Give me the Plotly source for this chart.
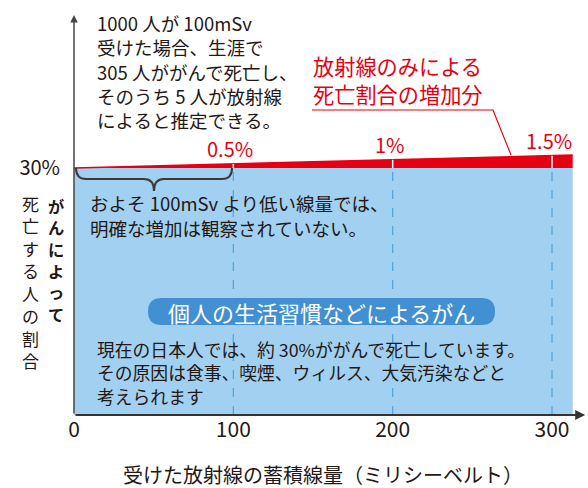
import plotly.graph_objects as go

# Cumulative dose (mSv) and the extra cancer-death share caused by radiation (%)
dose = [0, 100, 200, 300, 313]
excess = [0.0, 0.5, 1.0, 1.5, 1.57]
labelled_doses = [100, 200, 300]
base_rate = 30  # share of people dying of cancer (%)

x_ticks = [0, 100, 200, 300]
x_tick_text = ["0", "100", "200", "300"]
y_ticks = [30]
y_tick_text = ["30%"]

note_lines = [
    "1000 人が 100mSv",
    "受けた場合、生涯で",
    "305 人ががんで死亡し、",
    "そのうち 5 人が放射線",
    "によると推定できる。",
]
low_dose_lines = [
    "およそ 100mSv より低い線量では、",
    "明確な増加は観察されていない。",
]
lifestyle_title = "個人の生活習慣などによるがん"
lifestyle_lines = [
    "現在の日本人では、約 30%ががんで死亡しています。",
    "その原因は食事、喫煙、ウィルス、大気汚染などと",
    "考えられます",
]
radiation_title = ["放射線のみによる", "死亡割合の増加分"]
y_title_bold = "がんによって"
y_title = "死亡する人の割合"
x_title = "受けた放射線の蓄積線量（ミリシーベルト）"

RED = "#e50012"
BLUE_FILL = "#a1d0f0"
BLUE_DASH = "#4ea4dc"
PILL = "#4290d1"
INK = "#231815"
FONT = "Noto Sans CJK JP"

W, H = 588, 488
ML, MR, MT, MB = 74, 2, 10, 73
PW, PH = W - ML - MR, H - MT - MB
X_MAX = 300 * PW / 478
Y_MAX = base_rate * PH / 247


def px(x):
    return (x - ML) / PW


def py(y):
    return (H - MB - y) / PH


fig = go.Figure()

# population baseline (blue area)
fig.add_trace(go.Scatter(x=dose, y=[base_rate] * len(dose), mode="lines",
                         line=dict(width=0), fill="tozeroy",
                         fillcolor=BLUE_FILL, hoverinfo="skip"))

# dashed guides inside the blue area
for d in labelled_doses:
    fig.add_trace(go.Scatter(x=[d, d], y=[0, base_rate], mode="lines",
                             line=dict(color=BLUE_DASH, width=1.2, dash="dash"),
                             hoverinfo="skip"))

# radiation excess (red band on top of the baseline)
fig.add_trace(go.Scatter(x=dose, y=[base_rate] * len(dose), mode="lines",
                         line=dict(width=0), hoverinfo="skip"))
fig.add_trace(go.Scatter(x=dose, y=[base_rate + e for e in excess], mode="lines",
                         line=dict(color=RED, width=1.6), fill="tonexty",
                         fillcolor=RED, hoverinfo="skip"))

# white separators through the red band
for d in labelled_doses:
    e = excess[dose.index(d)]
    fig.add_trace(go.Scatter(x=[d, d], y=[base_rate, base_rate + e], mode="lines",
                             line=dict(color="white", width=1.5), hoverinfo="skip"))

annotations = []

# percentage labels above the band
for d in labelled_doses:
    e = excess[dose.index(d)]
    annotations.append(dict(x=d, y=base_rate + e, xref="x", yref="y",
                            text=f"{e:g}%", showarrow=False, yshift=15, xshift=-3,
                            xanchor="center", yanchor="middle",
                            font=dict(family=FONT, size=20, color=RED)))

# axis arrows
annotations.append(dict(x=0, y=Y_MAX - 0.6, ax=0, ay=0, xref="x", yref="y",
                        axref="x", ayref="y", text="", showarrow=True,
                        arrowhead=2, arrowsize=1, arrowwidth=1.5, arrowcolor="#444"))
annotations.append(dict(x=X_MAX - 0.5, y=0, ax=0, ay=0, xref="x", yref="y",
                        axref="x", ayref="y", text="", showarrow=True,
                        arrowhead=2, arrowsize=1, arrowwidth=2, arrowcolor="#333"))


def text_line(txt, x, y, size, color=INK, anchor="left", bold=False):
    annotations.append(dict(x=px(x), y=py(y), xref="paper", yref="paper",
                            text=f"<b>{txt}</b>" if bold else txt,
                            showarrow=False, xanchor=anchor, yanchor="middle",
                            font=dict(family=FONT, size=size, color=color)))


for i, t in enumerate(note_lines):
    text_line(t, 95, 23 + 24.3 * i, 18.5)
for i, t in enumerate(low_dose_lines):
    text_line(t, 88, 203 + 25 * i, 18.5)
for i, t in enumerate(lifestyle_lines):
    text_line(t, 95, 349 + 23.4 * i, 17.8)
for i, t in enumerate(radiation_title):
    text_line(t, 311, 65.5 + 28 * i, 21.2, color=RED)

text_line(lifestyle_title, 321, 311.5, 22, color="white", anchor="center")
text_line(x_title, 323, 474, 20, anchor="center")

# vertical y-axis title, one character per cell
for i, ch in enumerate(y_title_bold):
    text_line(ch, 56, 206 + 21.5 * i, 16.3, anchor="center", bold=True)
for i, ch in enumerate(y_title):
    text_line(ch, 30, 203 + 22.5 * i, 17, anchor="center")

shapes = []

# brace spanning the low-dose range
bx0, bx1, by0, by1, btip = 76, 232, 168, 179, 191
bm = (bx0 + bx1) / 2
brace = (f"M {px(bx0)},{py(by0)} Q {px(bx0)},{py(by1)} {px(bx0 + 10)},{py(by1)} "
         f"L {px(bm - 10)},{py(by1)} Q {px(bm)},{py(by1)} {px(bm)},{py(btip)} "
         f"Q {px(bm)},{py(by1)} {px(bm + 10)},{py(by1)} "
         f"L {px(bx1 - 10)},{py(by1)} Q {px(bx1)},{py(by1)} {px(bx1)},{py(by0)}")
shapes.append(dict(type="path", xref="paper", yref="paper", path=brace,
                   line=dict(color="#3a3a3a", width=2)))

# leader line under the red heading
shapes.append(dict(type="path", xref="paper", yref="paper",
                   path=f"M {px(312)},{py(110)} L {px(493)},{py(110)} L {px(511)},{py(155)}",
                   line=dict(color=RED, width=1.2)))

# rounded pill behind the lifestyle heading
x0, x1, y0, y1, r = 148, 495, 298, 325, 13.5
pill = (f"M {px(x0 + r)},{py(y0)} L {px(x1 - r)},{py(y0)} "
        f"Q {px(x1)},{py(y0)} {px(x1)},{py(y0 + r)} Q {px(x1)},{py(y1)} {px(x1 - r)},{py(y1)} "
        f"L {px(x0 + r)},{py(y1)} Q {px(x0)},{py(y1)} {px(x0)},{py(y1 - r)} "
        f"Q {px(x0)},{py(y0)} {px(x0 + r)},{py(y0)} Z")
shapes.append(dict(type="path", xref="paper", yref="paper", path=pill,
                   fillcolor=PILL, line=dict(width=0), layer="above"))

fig.update_layout(
    width=W, height=H,
    margin=dict(l=ML, r=MR, t=MT, b=MB),
    paper_bgcolor="white", plot_bgcolor="white",
    showlegend=False,
    font=dict(family=FONT, color=INK),
    xaxis=dict(range=[0, X_MAX], showgrid=False, zeroline=False, showline=False,
               tickvals=x_ticks, ticktext=x_tick_text, ticks="",
               tickfont=dict(family=FONT, size=21, color=INK),
               fixedrange=True),
    yaxis=dict(range=[0, Y_MAX], showgrid=False, zeroline=False, showline=False,
               tickvals=y_ticks, ticktext=y_tick_text, ticks="outside", ticklen=9,
               tickcolor="rgba(0,0,0,0)", tickfont=dict(family=FONT, size=20, color=INK),
               fixedrange=True),
    annotations=annotations,
    shapes=shapes,
)

fig.write_html("out.html")
